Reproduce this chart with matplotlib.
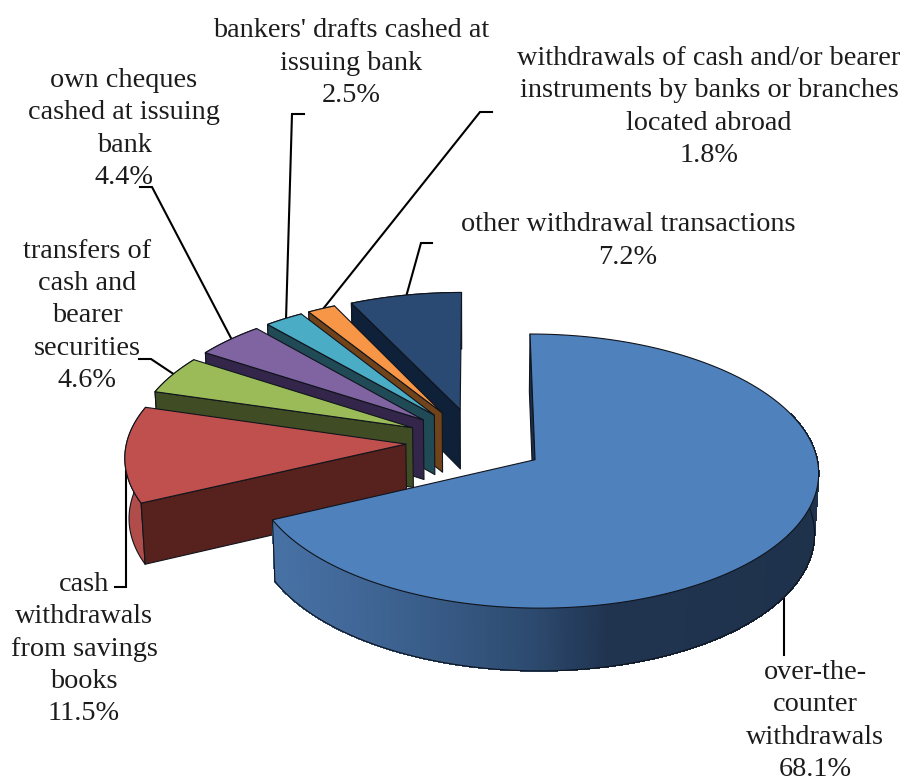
import numpy as np
import matplotlib
matplotlib.use("Agg")
import matplotlib.pyplot as plt
from matplotlib.patches import Polygon
from matplotlib.collections import PolyCollection

# Share of each withdrawal type, clockwise from twelve o'clock
categories = [
    "over-the-\ncounter\nwithdrawals",
    "cash\nwithdrawals\nfrom savings\nbooks",
    "transfers of\ncash and\nbearer\nsecurities",
    "own cheques\ncashed at issuing\nbank",
    "bankers' drafts cashed at\nissuing bank",
    "withdrawals of cash and/or bearer\ninstruments by banks or branches\nlocated abroad",
    "other withdrawal transactions",
]
shares = [68.1, 11.5, 4.6, 4.4, 2.5, 1.8, 7.2]
top_colors = ["#4f81bd", "#c0504d", "#9bbb59", "#8064a2", "#4bacc6", "#f79646", "#2a4a73"]
cut_colors = ["#1b2f4a", "#57221e", "#404d24", "#33264a", "#1f4a56", "#71431a", "#0e2138"]
wall_colors = ["#2a4a75", "#b04c49", "#404d24", "#33264a", "#1f4a56", "#71431a", "#0e2138"]

# Centre of each label block, then the elbow path of its leader line
label_centers = [(815, 721), (84, 649), (87, 316), (124, 129), (351, 63), (709, 107), (628, 241)]
leaders = [
    [(784, 597), (784, 655)],
    [(126, 453), (126, 587), (115, 587)],
    [(139, 359), (151, 359), (175, 375)],
    [(140, 187), (152, 187), (232, 340)],
    [(286, 320), (292, 114), (304, 114)],
    [(323, 309), (480, 112), (492, 112)],
    [(406, 297), (421, 243), (432, 243)],
]

# Projection of the tilted pie onto the page
ORIGIN_X, ORIGIN_Y = 475.5, 441.5
RADIUS_X, RADIUS_Y = 279.0, 134.0
PERSPECTIVE = 0.085
DEPTH = 60.0
EXPLODE = 0.25


def project(wx, wy, z=0.0):
    scale = (1 + PERSPECTIVE * wy) * (1 - 0.012 * z)
    sx = ORIGIN_X + RADIUS_X * wx * scale
    sy = ORIGIN_Y + RADIUS_Y * wy * scale + DEPTH * z * (1 + 0.07 * wy)
    return np.column_stack([sx, sy])


def direction(angle):
    return np.sin(angle), -np.cos(angle)


def blue_wall_color(x):
    stops_x = [270, 400, 530, 610, 820]
    stops = np.array([[72, 114, 166], [60, 97, 143], [45, 75, 112], [32, 52, 80], [31, 50, 76]]) / 255
    return [np.interp(x, stops_x, stops[:, i]) for i in range(3)]


plt.rcParams["font.family"] = ["Liberation Serif", "DejaVu Serif"]

fig = plt.figure(figsize=(9.10, 7.81), dpi=100)
ax = fig.add_axes([0, 0, 1, 1])
ax.set_xlim(0, 910)
ax.set_ylim(781, 0)
ax.axis("off")

values = np.array(shares) / np.sum(shares)
ends = np.cumsum(values) * 2 * np.pi
starts = np.concatenate([[0], ends[:-1]])

for pts in leaders:
    xs, ys = zip(*pts)
    ax.plot(xs, ys, color="black", lw=1.5, zorder=1, solid_joinstyle="miter")

LINE = "#10141c"
EDGE = dict(edgecolor=LINE, linewidth=0.8, joinstyle="round")

# Back-most slices first, so that nearer ones overlap them; the large slice goes last
order = list(range(len(values) - 1, 0, -1)) + [0]
for z, i in enumerate(order):
    base = 2 + z * 3
    a0, a1 = starts[i], ends[i]
    mid = (a0 + a1) / 2
    ox, oy = np.array(direction(mid)) * EXPLODE
    theta = np.linspace(a0, a1, 400)
    ux, uy = direction(theta)
    rim_top = project(ox + ux, oy + uy)
    rim_bottom = project(ox + ux, oy + uy, 1.0)

    # Curved outer wall
    if i == 0:
        front = np.where(uy > -0.35)[0]
        quads = [[rim_top[k], rim_top[k + 1], rim_bottom[k + 1], rim_bottom[k]] for k in front[:-1]]
        colors = [blue_wall_color(q[0][0]) for q in quads]
        ax.add_collection(PolyCollection(quads, facecolors=colors, edgecolors=colors,
                                         linewidths=0.6, antialiased=False, zorder=base))
        ax.plot(*rim_bottom[front].T, color=LINE, lw=0.8, zorder=base)
        ax.plot(*np.vstack([rim_top[front[-1]], rim_bottom[front[-1]]]).T,
                color=LINE, lw=0.8, zorder=base)
    else:
        outline = np.vstack([rim_top, rim_bottom[::-1]])
        ax.add_patch(Polygon(outline, closed=True, facecolor=wall_colors[i], zorder=base, **EDGE))

    # Flat cut face along the leading edge
    tip_top = project(np.array([ox]), np.array([oy]))
    tip_bottom = project(np.array([ox]), np.array([oy]), 1.0)
    cut = np.vstack([tip_top, rim_top[0], rim_bottom[0], tip_bottom])
    ax.add_patch(Polygon(cut, closed=True, facecolor=cut_colors[i], zorder=base + 1, **EDGE))

    # Top face
    top = np.vstack([tip_top, rim_top])
    ax.add_patch(Polygon(top, closed=True, facecolor=top_colors[i], zorder=base + 2, **EDGE))

for name, share, (x, y) in zip(categories, shares, label_centers):
    ax.text(x, y, f"{name}\n{share:.1f}%", ha="center", va="center", ma="center",
            fontsize=20.3, linespacing=1.38, color="#1c1c1c", zorder=40)

fig.savefig("out.png", dpi=100)
